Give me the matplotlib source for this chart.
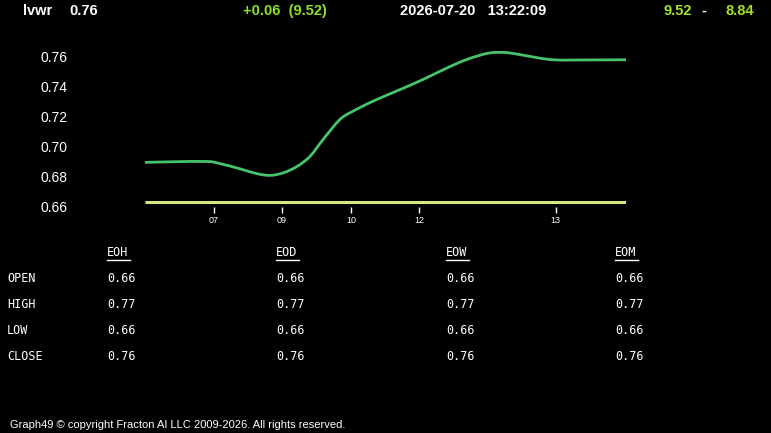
import matplotlib
matplotlib.use("Agg")
import matplotlib.pyplot as plt
from matplotlib.path import Path
from matplotlib.patches import PathPatch

# ---- data ----
symbol = "lvwr"
last_price = "0.76"
change_text = "+0.06  (9.52)"
timestamp = "2026-07-20   13:22:09"
range_hi = "9.52"
range_lo = "8.84"

x_idx = [0, 5.8, 12.9, 15.6, 19.8, 23.3, 26.0, 28.7, 31.6, 34.3, 37.0, 40.5, 43.2,
         47.4, 53.0, 57.8, 62.8, 66.9, 71.1, 73.8, 75.9, 79.4, 84.8, 92.3, 100]
price = [0.6894, 0.6898, 0.6900, 0.6886, 0.6851, 0.6819, 0.6808, 0.6824, 0.6867,
         0.6934, 0.7045, 0.7178, 0.7233, 0.7300, 0.7377, 0.7444, 0.7521, 0.7577,
         0.7617, 0.7624, 0.7620, 0.7601, 0.7575, 0.7574, 0.7575]
ref_level = 0.6628

xtick_pos = [14.3, 28.5, 42.8, 57.0, 85.4]
xtick_labels = ["07", "09", "10", "12", "13"]
ytick_vals = [0.66, 0.68, 0.70, 0.72, 0.74, 0.76]

table_cols = ["EOH", "EOD", "EOW", "EOM"]
table_rows = ["OPEN", "HIGH", "LOW", "CLOSE"]
table_vals = {
    "EOH": ["0.66", "0.77", "0.66", "0.76"],
    "EOD": ["0.66", "0.77", "0.66", "0.76"],
    "EOW": ["0.66", "0.77", "0.66", "0.76"],
    "EOM": ["0.66", "0.77", "0.66", "0.76"],
}
footer = "Graph49 \u00a9 copyright Fracton AI LLC 2009-2026. All rights reserved."

# ---- figure ----
W, H = 771, 433
fig = plt.figure(figsize=(W / 100, H / 100), dpi=100, facecolor="black")

def fx(px):
    return px / W

def fy(py):
    return 1 - py / H

ax_top_px, ax_bot_px = 40, 206.7
ax = fig.add_axes([fx(145), fy(ax_bot_px), fx(626) - fx(145), (ax_bot_px - ax_top_px) / H])
ax.set_facecolor("black")
px_per_unit = (206.7 - 56.0) / 0.10
ax.set_ylim(0.66, 0.66 + (ax_bot_px - ax_top_px) / px_per_unit)
ax.set_xlim(0, 100)
for s in ax.spines.values():
    s.set_visible(False)

ax.axhline(ref_level, color="#d8e879", lw=2.2, solid_capstyle="butt")

# smooth (Catmull-Rom rendered as cubic Bezier) path through the data points
verts = [(x_idx[0], price[0])]
codes = [Path.MOVETO]
n = len(x_idx)
for i in range(n - 1):
    x0, y0 = (x_idx[i - 1], price[i - 1]) if i > 0 else (x_idx[i], price[i])
    x1, y1 = x_idx[i], price[i]
    x2, y2 = x_idx[i + 1], price[i + 1]
    x3, y3 = (x_idx[i + 2], price[i + 2]) if i + 2 < n else (x2, y2)
    c1 = (x1 + (x2 - x0) / 6, y1 + (y2 - y0) / 6)
    c2 = (x2 - (x3 - x1) / 6, y2 - (y3 - y1) / 6)
    verts += [c1, c2, (x2, y2)]
    codes += [Path.CURVE4] * 3
ax.add_patch(PathPatch(Path(verts, codes), facecolor="none", edgecolor="#45c46b",
                       lw=2.0, capstyle="round", joinstyle="round"))

ax.set_yticks(ytick_vals)
ax.set_yticklabels([f"{v:.2f}" for v in ytick_vals], fontsize=10,
                   family="Liberation Sans", color="white")
ax.tick_params(axis="y", length=0, pad=56)

ax.set_xticks(xtick_pos)
ax.set_xticklabels(xtick_labels, fontsize=6.5, family="Liberation Sans", color="white")
ax.tick_params(axis="x", length=4, width=1, color="white", pad=3, direction="out")

# ---- header ----
hy = fy(11)
hb = dict(family="Liberation Sans", fontsize=10.5, fontweight="bold", va="center", ha="left")
fig.text(fx(23), hy, symbol, color="white", **hb)
fig.text(fx(69), hy, last_price, color="white", **hb)
fig.text(fx(243), hy, change_text, color="#8fe02c", **hb)
fig.text(fx(400), hy, timestamp, color="white", **hb)
fig.text(fx(663), hy, range_hi, color="#a3e22a", **hb)
fig.text(fx(701), hy, "-", color="white", **hb)
fig.text(fx(725), hy, range_lo, color="#a3e22a", **hb)

# ---- table ----
mono = dict(family="DejaVu Sans Mono", fontsize=8.5, color="white", va="center", ha="left")
col_x = [107, 276, 446, 615]
row_y = [279, 304, 330, 356]
for cx, c in zip(col_x, table_cols):
    fig.text(fx(cx), fy(253), c, **mono)
    fig.add_artist(plt.Line2D([fx(cx), fx(cx + 23)], [fy(259.5), fy(259.5)],
                              color="white", lw=1, transform=fig.transFigure))
    for ry, v in zip(row_y, table_vals[c]):
        fig.text(fx(cx), fy(ry), v, **mono)
for ry, r in zip(row_y, table_rows):
    fig.text(fx(7), fy(ry), r, **mono)

# ---- footer ----
fig.text(fx(10), fy(425), footer, family="Liberation Sans", fontsize=8,
         color="white", va="center", ha="left")

fig.savefig("out.png", dpi=100, facecolor="black")
